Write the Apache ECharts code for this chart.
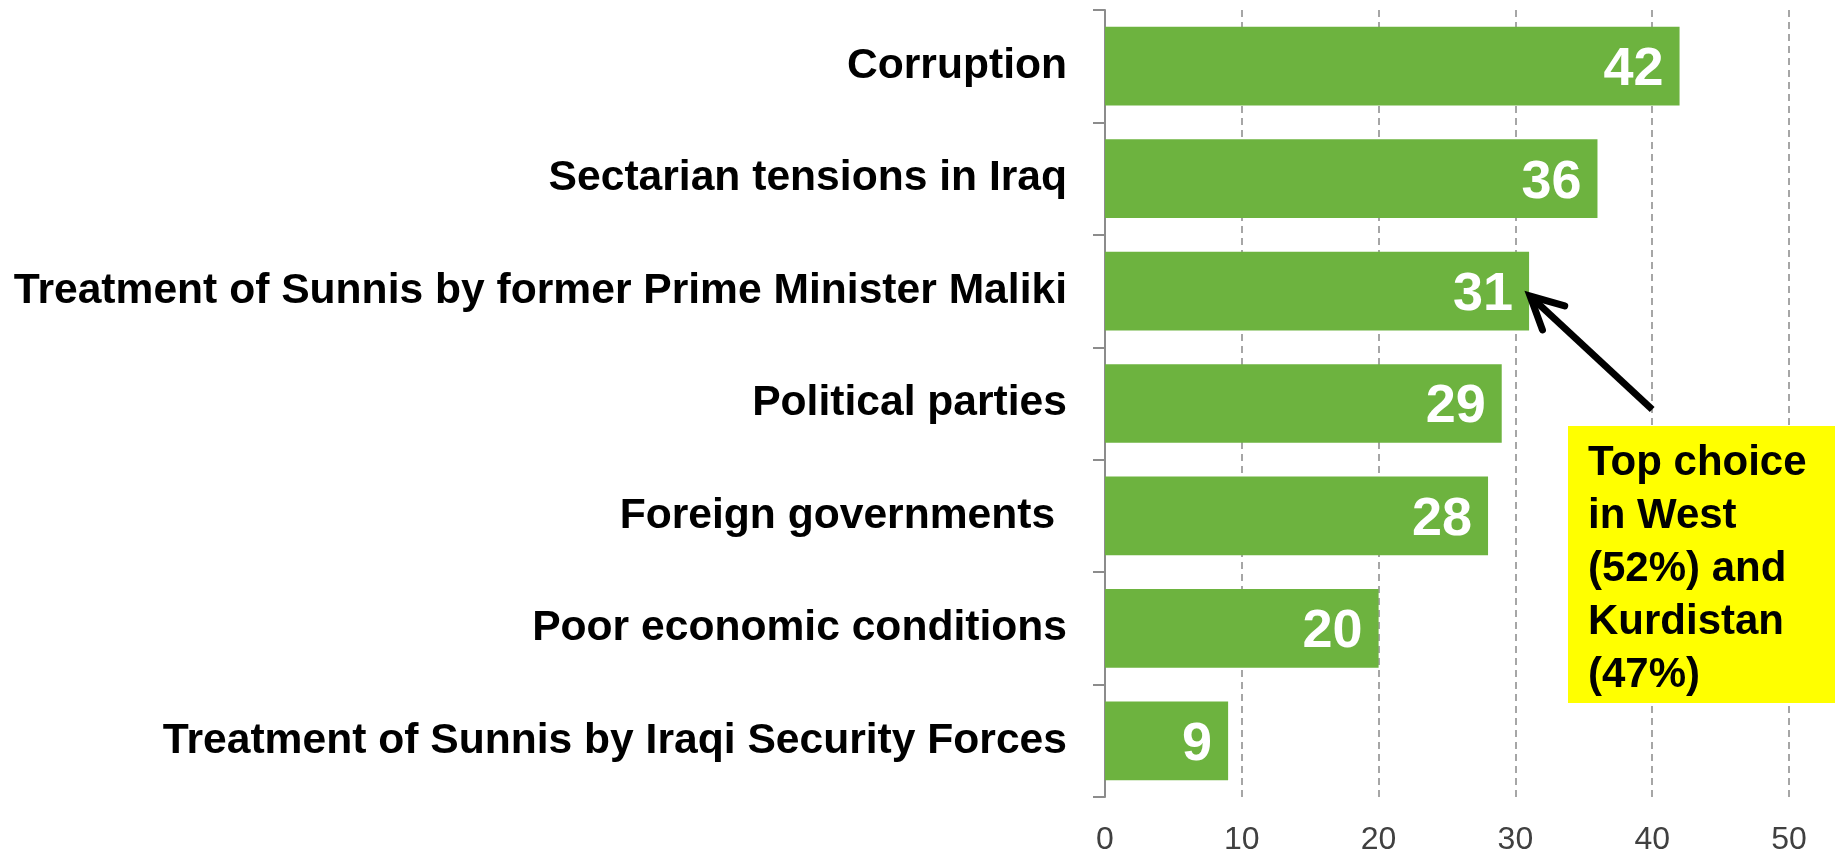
<!DOCTYPE html>
<html>
<head>
<meta charset="utf-8">
<script src="https://cdn.jsdelivr.net/npm/echarts@6/dist/echarts.min.js"></script>
<style>
html,body{margin:0;padding:0;background:#fff;}
#chart{width:1835px;height:852px;}
</style>
</head>
<body>
<div id="chart"></div>
<script>
const categories = [
  'Corruption',
  'Sectarian tensions in Iraq',
  'Treatment of Sunnis by former Prime Minister Maliki',
  'Political parties',
  'Foreign governments ',
  'Poor economic conditions',
  'Treatment of Sunnis by Iraqi Security Forces'
];
const values = [42, 36, 31, 29, 28, 20, 9];
const xTicks = [0, 10, 20, 30, 40, 50];
const noteLines = ['Top choice', 'in West', '(52%) and', 'Kurdistan', '(47%)'];
const arrowFrom = [40, 'Political parties'];
const arrowTo = [31, 'Treatment of Sunnis by former Prime Minister Maliki'];

const FONT = "'Liberation Sans', Arial, sans-serif";
const chart = echarts.init(document.getElementById('chart'));
chart.setOption({
  animation: false,
  backgroundColor: '#fff',
  grid: { left: 1105, right: 46, top: 10, bottom: 55, containLabel: false, outerBoundsMode: 'none' },
  xAxis: {
    type: 'value',
    min: xTicks[0], max: xTicks[xTicks.length - 1], interval: 10,
    axisLine: { show: false },
    axisTick: { show: false },
    axisLabel: { color: '#404040', fontSize: 32, fontFamily: FONT, margin: 27 },
    splitLine: { show: true, lineStyle: { color: '#a6a6a6', width: 2, type: [7, 5] } }
  },
  yAxis: {
    type: 'category',
    inverse: true,
    data: categories,
    axisLine: { show: true, lineStyle: { color: '#8c8c8c', width: 2 } },
    axisTick: { show: true, length: 12, lineStyle: { color: '#8c8c8c', width: 2 } },
    axisLabel: { color: '#000', fontSize: 42.6, fontWeight: 'bold', fontFamily: FONT, margin: 38, padding: [12, 0, 0, 0] },
    splitLine: { show: false }
  },
  series: [{
    type: 'bar',
    data: values,
    barCategoryGap: '30%',
    itemStyle: { color: '#6db33f' },
    label: {
      show: true, position: 'insideRight', distance: 16, offset: [0, 4],
      color: '#fff', fontSize: 54, fontWeight: 'bold', fontFamily: FONT
    }
  }]
});

const from = chart.convertToPixel({ gridIndex: 0 }, arrowFrom);
const to = chart.convertToPixel({ gridIndex: 0 }, arrowTo);
const sx = from[0], sy = from[1] + 6;
const tx = to[0] + 1, ty = to[1] + 5;
const ang = Math.atan2(sy - ty, sx - tx);
const armLen = 36, spread = 27 * Math.PI / 180;
const a1 = [tx + armLen * Math.cos(ang - spread), ty + armLen * Math.sin(ang - spread)];
const a2 = [tx + armLen * Math.cos(ang + spread), ty + armLen * Math.sin(ang + spread)];

chart.setOption({
  graphic: [
    { type: 'line', shape: { x1: sx, y1: sy, x2: tx + 4 * Math.cos(ang), y2: ty + 4 * Math.sin(ang) }, style: { stroke: '#000', lineWidth: 7 }, z: 10 },
    { type: 'polyline', shape: { points: [a1, [tx, ty], a2] }, style: { stroke: '#000', lineWidth: 7, fill: null, lineJoin: 'miter', lineCap: 'round' }, z: 10 },
    { type: 'rect', shape: { x: 1568, y: 426, width: 267, height: 277 }, style: { fill: '#ffff00' }, z: 10 },
    { type: 'text', x: 1588, y: 437, z: 11,
      style: { text: noteLines.join('\n'), font: "bold 42px 'Liberation Sans', Arial, sans-serif", lineHeight: 53, fill: '#000' } }
  ]
});
</script>
</body>
</html>
